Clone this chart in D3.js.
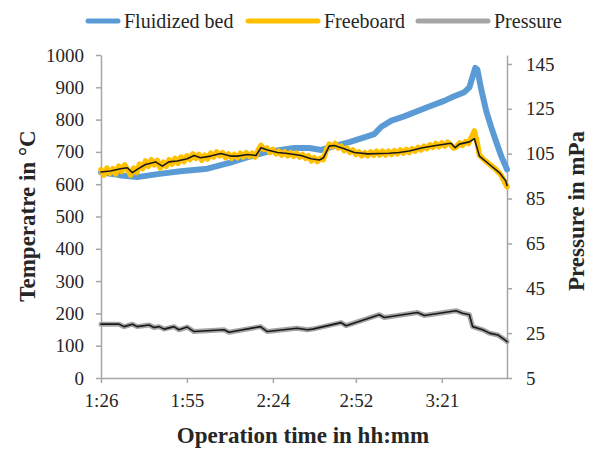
<!DOCTYPE html>
<html>
<head>
<meta charset="utf-8">
<script src="https://cdn.jsdelivr.net/npm/d3@7"></script>
<style>
  body { margin: 0; background: #fff; }
  svg { font-family: "Liberation Serif", "Times New Roman", serif; }
</style>
</head>
<body>
<div id="chart"></div>
<script>
// operation time in minutes since 0:00
const bedTime = [86, 92.2, 98.2, 105.7, 112.8, 121.9, 129.6, 136, 142.1, 151.2, 156.3, 160.3, 164.7, 169.8, 175.9, 178.2, 180.6, 184, 188.3, 196.1, 201.8, 205.2, 208.6, 210.3, 211.3, 212.3, 213, 214.3, 216, 217.7, 219.4, 221.1, 223];
const bedTemp = [637, 628, 622, 632, 640, 648, 667, 685, 700, 712, 712, 706, 718, 730, 748, 755, 778, 797, 810, 838, 858, 872, 885, 900, 930, 960, 955, 894, 826, 776, 730, 686, 646];

const boardTime = [86, 87, 88, 89, 90, 91, 92, 93, 94, 95, 96, 97, 98, 99, 100, 101, 102, 103, 104, 105,
  106, 107, 108, 109, 110, 111, 112, 113, 114, 115, 116, 117, 118, 119, 120, 121, 122, 123, 124, 125,
  126, 127, 128, 129, 130, 131, 132, 133, 134, 135, 136, 137, 138, 139, 140, 141, 142, 143, 144, 145,
  146, 147, 148, 149, 150, 151, 152, 153, 154, 155, 156, 157, 158, 159, 160, 161, 162, 163, 164, 165,
  166, 167, 168, 169, 170, 171, 172, 173, 174, 175, 176, 177, 178, 179, 180, 181, 182, 183, 184, 185,
  186, 187, 188, 189, 190, 191, 192, 193, 194, 195, 196, 197, 198, 199, 200, 201, 202, 203, 204, 205,
  206, 207, 208, 209, 210, 211, 212, 212.8, 213.7, 215, 217, 219, 221, 223];
const boardTemp = [645, 628, 650, 634, 648, 632, 656, 640, 660, 644, 628, 650, 636, 662, 648, 672, 655, 676, 660, 674,
  650, 668, 655, 676, 662, 680, 665, 684, 670, 688, 676, 694, 680, 692, 674, 690, 678, 696, 684, 700,
  688, 698, 682, 694, 680, 692, 682, 696, 684, 698, 686, 696, 684, 705, 720, 708, 712, 698, 708, 694,
  702, 690, 700, 688, 698, 686, 696, 684, 692, 680, 688, 672, 682, 670, 680, 676, 705, 724, 716, 726,
  712, 718, 704, 712, 698, 706, 692, 700, 688, 698, 688, 700, 690, 702, 690, 702, 690, 702, 692, 704,
  694, 706, 696, 708, 698, 710, 702, 714, 706, 718, 710, 722, 714, 726, 716, 728, 718, 730, 722, 712,
  716, 728, 720, 732, 726, 745, 765, 735, 690, 678, 662, 648, 628, 592];

// moving-average trend of the freeboard temperature (black line)
const boardTrendTime = [86, 89.2, 92.6, 94.9, 96.6, 98.2, 101, 104.4, 106.7, 108.9, 111.7, 115.1, 117.4, 119.6, 123, 126.4, 129.7, 132,
  135.5, 138.3, 140, 142.2, 145.6, 149, 153.5, 156.9, 159.7, 161.1, 163, 164.7, 168.1, 171.5, 176, 183.3, 186.6, 190,
  194.5, 199, 204.1, 205.5, 206.9, 210.3, 212, 213.7, 217.1, 220.4, 222.6, 223];
const boardTrendTemp = [638, 641, 648, 651, 636, 646, 661, 669, 656, 669, 672, 679, 689, 682, 687, 695, 687, 687,
  692, 689, 713, 706, 698, 695, 689, 679, 675, 682, 718, 720, 710, 698, 694, 696, 698, 703,
  713, 720, 727, 713, 724, 731, 741, 687, 661, 636, 610, 596];

const presTime = [86, 92.1, 93.8, 96.6, 98.2, 102.2, 103.9, 105.6, 107.3, 110.6, 112.3, 115.1, 117.4, 127.5, 129.2, 139.8, 142.1,
  152.2, 155.6, 157.4, 167, 168.7, 179.9, 181.6, 192.8, 195.1, 205.8, 208, 210.3, 211.4, 214.8, 217.1, 219.9, 222.6, 223];
const presVal = [29.0, 29.0, 27.9, 29.0, 27.9, 28.6, 27.5, 27.9, 26.8, 27.9, 26.5, 27.7, 25.7, 26.5, 25.4, 27.9, 25.7,
  27.2, 26.5, 26.8, 29.7, 28.3, 33.2, 32.0, 34.2, 32.9, 35.0, 33.9, 33.2, 27.9, 26.5, 25.0, 24.2, 21.7, 21.2];

const timeTicks = ["1:26", "1:55", "2:24", "2:52", "3:21"];
const tempTicks = [0, 100, 200, 300, 400, 500, 600, 700, 800, 900, 1000];
const presTicks = [5, 25, 45, 65, 85, 105, 125, 145];

const seriesNames = ["Fluidized bed", "Freeboard", "Pressure"];
const seriesColors = ["#5b9bd5", "#ffc000", "#a5a5a5"];

const W = 595, H = 450;
const m = {left: 101, right: 507, top: 55, bottom: 378};
const axisColor = "#a6a6a6";

const svg = d3.select("#chart").append("svg")
  .attr("width", W).attr("height", H);

const x = d3.scaleLinear().domain([86, 223]).range([m.left, m.right]);
const yT = d3.scaleLinear().domain([0, 1000]).range([m.bottom, m.top]);
const yP = d3.scaleLinear().domain([5, 149]).range([m.bottom, m.top]);

function toMin(s) {
  const p = s.split(":");
  return +p[0] * 60 + +p[1];
}

// axes
const xAxis = svg.append("g")
  .attr("transform", "translate(0," + m.bottom + ")")
  .call(d3.axisBottom(x)
    .tickValues(timeTicks.map(toMin))
    .tickFormat(function(d, i) { return timeTicks[i]; })
    .tickSize(5).tickSizeOuter(0).tickPadding(11));

const yAxisL = svg.append("g")
  .attr("transform", "translate(" + m.left + ",0)")
  .call(d3.axisLeft(yT).tickValues(tempTicks).tickFormat(d3.format("d"))
    .tickSize(5).tickSizeOuter(0).tickPadding(12));

const yAxisR = svg.append("g")
  .attr("transform", "translate(" + m.right + ",0)")
  .call(d3.axisRight(yP).tickValues(presTicks).tickFormat(d3.format("d"))
    .tickSize(5).tickSizeOuter(0).tickPadding(14));

[xAxis, yAxisL, yAxisR].forEach(function(a) {
  a.select(".domain").attr("stroke", axisColor).attr("stroke-width", 1.5);
  a.selectAll(".tick line").attr("stroke", axisColor).attr("stroke-width", 1.5);
  a.selectAll(".tick text")
    .attr("fill", "#262626")
    .style("font-size", "19px")
    .style("font-family", "Liberation Serif");
});

// series
function pts(t, v) { return t.map(function(d, i) { return [d, v[i]]; }); }

const lineT = d3.line().x(function(d) { return x(d[0]); }).y(function(d) { return yT(d[1]); });
const lineP = d3.line().x(function(d) { return x(d[0]); }).y(function(d) { return yP(d[1]); });

const plot = svg.append("g")
  .attr("fill", "none")
  .attr("stroke-linejoin", "round")
  .attr("stroke-linecap", "round");

plot.append("path")
  .attr("d", lineT(pts(bedTime, bedTemp)))
  .attr("stroke", seriesColors[0]).attr("stroke-width", 6);

plot.append("path")
  .attr("d", lineT(pts(boardTime, boardTemp)))
  .attr("stroke", seriesColors[1]).attr("stroke-width", 5.5);

plot.append("path")
  .attr("d", lineP(pts(presTime, presVal)))
  .attr("stroke", seriesColors[2]).attr("stroke-width", 5);

// trend lines
plot.append("path")
  .attr("d", lineT(pts(boardTrendTime, boardTrendTemp)))
  .attr("stroke", "#1a1a1a").attr("stroke-width", 1.6);

plot.append("path")
  .attr("d", lineP(pts(presTime, presVal)))
  .attr("stroke", "#1a1a1a").attr("stroke-width", 1.6);

// legend
const legendX = [[88, 118, 124], [248, 318, 324], [418, 488, 494]];
const legend = svg.append("g").selectAll("g")
  .data(seriesNames)
  .enter().append("g");

legend.append("line")
  .attr("x1", function(d, i) { return legendX[i][0]; })
  .attr("x2", function(d, i) { return legendX[i][1]; })
  .attr("y1", 21).attr("y2", 21)
  .attr("stroke", function(d, i) { return seriesColors[i]; })
  .attr("stroke-width", 5)
  .attr("stroke-linecap", "round");

legend.append("text")
  .attr("x", function(d, i) { return legendX[i][2]; })
  .attr("y", 28)
  .attr("fill", "#262626")
  .style("font-size", "20px")
  .text(function(d) { return d; });

// axis titles
svg.append("text")
  .attr("x", 303).attr("y", 443)
  .attr("text-anchor", "middle")
  .style("font-size", "23px").style("font-weight", "bold")
  .attr("fill", "#262626")
  .text("Operation time in hh:mm");

svg.append("text")
  .attr("transform", "translate(35,216) rotate(-90)")
  .attr("text-anchor", "middle")
  .style("font-size", "23px").style("font-weight", "bold")
  .attr("fill", "#262626")
  .text("Temperatre in °C");

svg.append("text")
  .attr("transform", "translate(584,211) rotate(-90)")
  .attr("text-anchor", "middle")
  .style("font-size", "23px").style("font-weight", "bold")
  .attr("fill", "#262626")
  .text("Pressure in mPa");
</script>
</body>
</html>
